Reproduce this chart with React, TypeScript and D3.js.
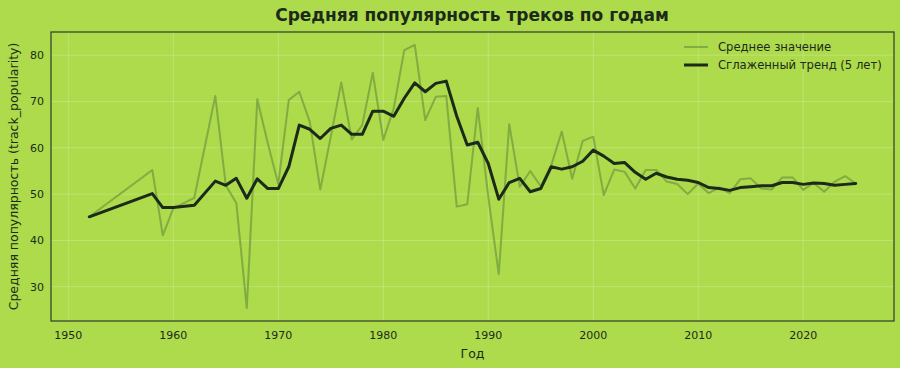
import { useRef, useEffect } from "react";
import * as d3 from "d3";

// годы
const years = [
  1952, 1958, 1959, 1960, 1962, 1964, 1965, 1966, 1967, 1968, 1969, 1970, 1971, 1972, 1973, 1974,
  1975, 1976, 1977, 1978, 1979, 1980, 1981, 1982, 1983, 1984, 1985, 1986, 1987, 1988, 1989, 1990,
  1991, 1992, 1993, 1994, 1995, 1996, 1997, 1998, 1999, 2000, 2001, 2002, 2003, 2004, 2005, 2006,
  2007, 2008, 2009, 2010, 2011, 2012, 2013, 2014, 2015, 2016, 2017, 2018, 2019, 2020, 2021, 2022,
  2023, 2024, 2025,
];
// среднее значение
const meanValues = [
  45.1, 55.2, 41.1, 46.9, 49.2, 71.2, 51.9, 48.1, 25.4, 70.5, 61.0, 52.2, 70.3, 72.1, 65.6, 51.0,
  62.4, 74.1, 61.8, 64.9, 76.2, 61.7, 68.5, 81.1, 82.2, 66.0, 71.0, 71.2, 47.3, 47.8, 68.6, 49.5,
  32.7, 65.1, 51.6, 55.0, 51.7, 56.2, 63.5, 53.3, 61.5, 62.4, 49.8, 55.3, 54.8, 51.2, 55.2, 55.2,
  52.7, 52.2, 50.0, 52.3, 50.2, 51.4, 50.2, 53.2, 53.4, 51.2, 51.0, 53.6, 53.6, 50.9, 52.4, 50.5,
  52.7, 53.9, 52.3,
];
// сглаженный тренд
const smoothValues = [
  45.1, 50.1, 47.1, 47.1, 47.6, 52.8, 51.9, 53.4, 49.1, 53.3, 51.2, 51.2, 55.9, 64.9, 64.0, 62.0,
  64.2, 64.9, 62.9, 62.9, 67.9, 67.9, 66.8, 70.7, 74.0, 72.1, 73.9, 74.4, 66.8, 60.6, 61.2, 56.6,
  48.9, 52.5, 53.4, 50.5, 51.2, 55.9, 55.4, 55.9, 57.1, 59.5, 58.2, 56.6, 56.8, 54.7, 53.2, 54.5,
  53.7, 53.2, 53.0, 52.5, 51.4, 51.2, 50.8, 51.4, 51.6, 51.8, 51.8, 52.5, 52.5, 52.1, 52.4, 52.3,
  51.9, 52.1, 52.3,
];
const xTicks = [1950, 1960, 1970, 1980, 1990, 2000, 2010, 2020];
const yTicks = [30, 40, 50, 60, 70, 80];

const App = () => {
  const svgRef = useRef<SVGSVGElement>(null);

  useEffect(() => {
    const svg = d3.select(svgRef.current);
    svg.selectAll("*").remove();

    const width = 900;
    const height = 368;
    const left = 51;
    const right = 894;
    const top = 32;
    const bottom = 321;
    const dark = "#1c2a1a";
    const rawColor = "#6f9a3e";
    const font = "DejaVu Sans, sans-serif";

    svg.attr("width", width).attr("height", height);
    svg.append("rect").attr("width", width).attr("height", height).attr("fill", "#addb4b");

    const xScale = d3.scaleLinear().domain([1948.35, 2028.65]).range([left, right]);
    const yScale = d3.scaleLinear().domain([22.6, 85.0]).range([bottom, top]);

    // сетка
    const grid = svg.append("g").attr("stroke", "#ffffff").attr("stroke-opacity", 0.28).attr("stroke-width", 0.8);
    grid.selectAll("line.x").data(xTicks).enter().append("line")
      .attr("x1", (d) => xScale(d)).attr("x2", (d) => xScale(d))
      .attr("y1", top).attr("y2", bottom);
    grid.selectAll("line.y").data(yTicks).enter().append("line")
      .attr("x1", left).attr("x2", right)
      .attr("y1", (d) => yScale(d)).attr("y2", (d) => yScale(d));

    const points = years.map((y, i) => ({ year: y, mean: meanValues[i], smooth: smoothValues[i] }));

    const meanLine = d3.line<any>().x((d) => xScale(d.year)).y((d) => yScale(d.mean));
    const smoothLine = d3.line<any>().x((d) => xScale(d.year)).y((d) => yScale(d.smooth));

    svg.append("path").datum(points).attr("d", meanLine)
      .attr("fill", "none").attr("stroke", rawColor).attr("stroke-opacity", 0.72)
      .attr("stroke-width", 2).attr("stroke-linejoin", "round");
    svg.append("path").datum(points).attr("d", smoothLine)
      .attr("fill", "none").attr("stroke", dark).attr("stroke-width", 3)
      .attr("stroke-linejoin", "round").attr("stroke-linecap", "round");

    // рамка
    svg.append("rect").attr("x", left).attr("y", top)
      .attr("width", right - left).attr("height", bottom - top)
      .attr("fill", "none").attr("stroke", "#2e3b2a").attr("stroke-width", 1.2);

    // подписи осей
    svg.selectAll("text.xt").data(xTicks).enter().append("text")
      .attr("x", (d) => xScale(d)).attr("y", bottom + 18)
      .attr("text-anchor", "middle").attr("font-family", font).attr("font-size", 11)
      .attr("fill", dark).text((d) => d);
    svg.selectAll("text.yt").data(yTicks).enter().append("text")
      .attr("x", left - 7).attr("y", (d) => yScale(d) + 4)
      .attr("text-anchor", "end").attr("font-family", font).attr("font-size", 11)
      .attr("fill", dark).text((d) => d);

    svg.append("text").attr("x", 472).attr("y", 21)
      .attr("text-anchor", "middle").attr("font-family", font).attr("font-size", 17)
      .attr("font-weight", "bold").attr("fill", dark)
      .text("Средняя популярность треков по годам");

    svg.append("text").attr("x", (left + right) / 2).attr("y", 358)
      .attr("text-anchor", "middle").attr("font-family", font).attr("font-size", 12.5)
      .attr("fill", dark).text("Год");

    svg.append("text")
      .attr("transform", `translate(18, ${(top + bottom) / 2}) rotate(-90)`)
      .attr("text-anchor", "middle").attr("font-family", font).attr("font-size", 12.5)
      .attr("fill", dark).text("Средняя популярность (track_popularity)");

    // легенда
    const legend = svg.append("g").attr("font-family", font).attr("font-size", 11.6).attr("fill", dark);
    legend.append("line").attr("x1", 684).attr("x2", 708).attr("y1", 47).attr("y2", 47)
      .attr("stroke", rawColor).attr("stroke-opacity", 0.72).attr("stroke-width", 2);
    legend.append("text").attr("x", 718).attr("y", 51).text("Среднее значение");
    legend.append("line").attr("x1", 684).attr("x2", 708).attr("y1", 65).attr("y2", 65)
      .attr("stroke", dark).attr("stroke-width", 3);
    legend.append("text").attr("x", 718).attr("y", 69).text("Сглаженный тренд (5 лет)");
  }, []);

  return (
    <div style={{ position: "absolute", left: 0, top: 0 }}>
      <svg ref={svgRef}></svg>
    </div>
  );
};

export default App;
